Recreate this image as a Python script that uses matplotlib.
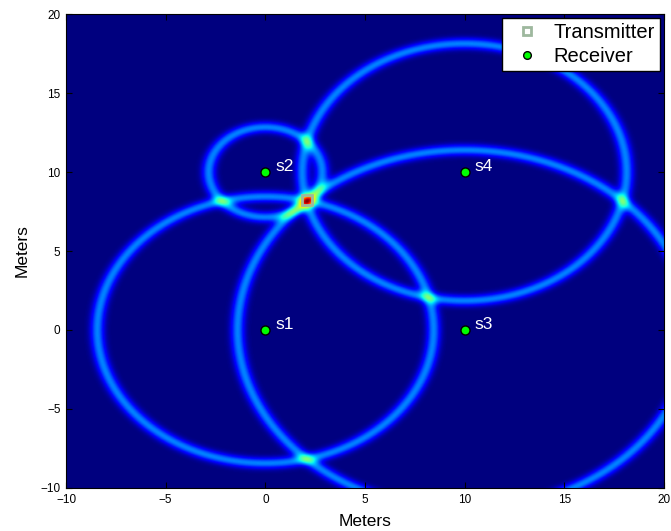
import numpy as np
import matplotlib.pyplot as plt

plt.rcParams['font.family'] = ['Liberation Sans', 'DejaVu Sans']

# receiver positions (m) and their measured ranges to the transmitter
rx_x = [0, 0, 10, 10]
rx_y = [0, 10, 0, 10]
rx_names = ['s1', 's2', 's3', 's4']
ranges = [8.45, 2.85, 11.4, 8.15]

# true transmitter location
tx_x = [2.1]
tx_y = [8.2]

sigma = 0.24

# likelihood surface: one gaussian ring per receiver
gx = np.linspace(-10, 20, 601)
gy = np.linspace(-10, 20, 601)
X, Y = np.meshgrid(gx, gy)
field = np.zeros_like(X)
for x0, y0, r in zip(rx_x, rx_y, ranges):
    d = np.hypot(X - x0, Y - y0)
    field += np.exp(-(d - r) ** 2 / (2 * sigma ** 2))

fig = plt.figure(figsize=(6.71, 5.31), dpi=100)
ax = fig.add_axes([0.0984, 0.081, 0.8912, 0.8926])

ax.imshow(field, extent=[-10, 20, -10, 20], origin='lower', cmap='jet',
          aspect='auto', interpolation='bilinear', vmin=0, vmax=field.max())

ax.plot(tx_x, tx_y, 's', mfc='none', mec=(0.62, 0.72, 0.62), mew=2, ms=7,
        label='Transmitter')
ax.plot(rx_x, rx_y, 'o', mfc=(0, 1, 0), mec='k', mew=1, ms=6.5,
        label='Receiver')

for x0, y0, name in zip(rx_x, rx_y, rx_names):
    ax.text(x0 + 0.5, y0 + 0.05, name, color='white', fontsize=12.5,
            ha='left', va='baseline')

ax.set_xlim(-10, 20)
ax.set_ylim(-10, 20)
ax.set_xticks(range(-10, 21, 5))
ax.set_yticks(range(-10, 21, 5))
ax.tick_params(direction='in', top=True, right=True, length=4, labelsize=8.5,
               pad=4)
ax.set_xlabel('Meters', fontsize=12.5, labelpad=6)
ax.set_ylabel('Meters', fontsize=12.5, labelpad=8)

leg = ax.legend(loc='upper right', fontsize=14.5, frameon=True, fancybox=False,
                framealpha=1, edgecolor='k', borderaxespad=0.2, borderpad=0.25,
                labelspacing=0.25, handlelength=2.0, handletextpad=0.3,
                markerscale=0.85)
leg.get_frame().set_linewidth(1.0)

fig.savefig('out.png', dpi=100)
